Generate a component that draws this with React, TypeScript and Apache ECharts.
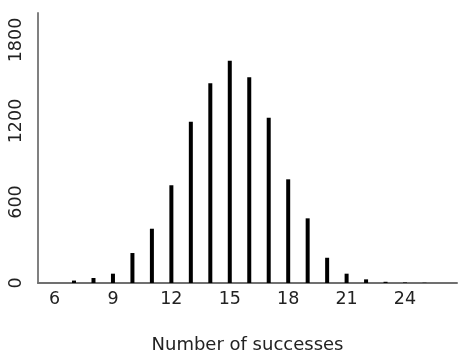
import React, { useEffect, useRef } from "react";
import * as echarts from "echarts";

const successes = [7, 8, 9, 10, 11, 12, 13, 14, 15, 16, 17, 18, 19, 20, 21, 22, 23, 24, 25];
const counts = [18, 37, 69, 222, 402, 724, 1195, 1479, 1647, 1524, 1224, 768, 479, 187, 69, 27, 9, 4, 2];
const xTicks = [6, 9, 12, 15, 18, 21, 24];
const yTicks = [0, 600, 1200, 1800];

export default function App() {
  const ref = useRef<HTMLDivElement>(null);
  useEffect(() => {
    if (!ref.current) return;
    const chart = echarts.init(ref.current, null, { renderer: "svg" });
    chart.setOption({
      animation: false,
      grid: {
        left: 38,
        top: 13,
        right: 7,
        bottom: 75,
        containLabel: false,
        outerBoundsMode: "none",
      },
      xAxis: {
        type: "value",
        min: 5.15,
        max: 26.67,
        name: "Number of successes",
        nameLocation: "middle",
        nameGap: 51,
        nameTextStyle: { fontFamily: "DejaVu Sans", fontSize: 18, color: "#222" },
        axisLine: { show: true, lineStyle: { color: "#707070", width: 2 } },
        axisTick: { show: false },
        splitLine: { show: false },
        axisLabel: {
          customValues: xTicks,
          formatter: (v: number) => String(v),
          fontFamily: "DejaVu Sans",
          fontSize: 17.5,
          color: "#222",
          margin: 6,
        },
      },
      yAxis: {
        type: "value",
        min: 0,
        max: 2000,
        axisLine: { show: true, lineStyle: { color: "#808080", width: 2 } },
        axisTick: { show: false },
        splitLine: { show: false },
        axisLabel: {
          customValues: yTicks,
          formatter: (v: number) => String(v),
          rotate: 90,
          fontFamily: "DejaVu Sans",
          fontSize: 17.5,
          color: "#222",
          margin: 14,
        },
      },
      series: [
        {
          type: "bar",
          barWidth: 4,
          itemStyle: { color: "#000" },
          data: successes.map((s, i) => [s, counts[i]]),
        },
      ],
    });
    return () => chart.dispose();
  }, []);
  return (
    <div
      ref={ref}
      style={{ position: "fixed", left: 0, top: 0, width: 464, height: 358 }}
    />
  );
}
